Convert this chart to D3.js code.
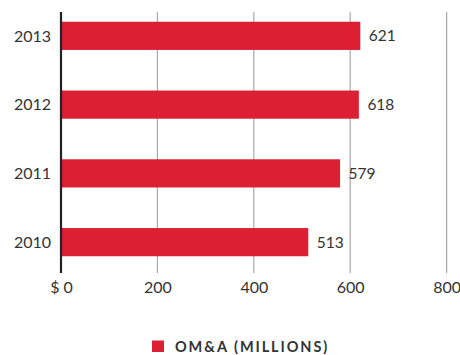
<!DOCTYPE html>
<html>
<head>
<meta charset="utf-8">
<script src="https://cdn.jsdelivr.net/npm/d3@7"></script>
<style>
  html, body { margin: 0; padding: 0; background: #fff; }
  svg { display: block; font-family: "Lato", "Open Sans", sans-serif; }
</style>
</head>
<body>
<svg id="chart" width="460" height="355"></svg>
<script>
// OM&A spending by year, in millions of dollars
const years = ["2013", "2012", "2011", "2010"];
const omaValues = [621, 618, 579, 513];
const xTicks = [0, 200, 400, 600, 800];
const tickLabels = ["$ 0", "200", "400", "600", "800"];
const legendLabel = "OM&A (MILLIONS)";

const red = "#dc1f33";
const textColor = "#333333";

const svg = d3.select("#chart");

const x = d3.scaleLinear().domain([0, 800]).range([61, 446.6]);
const y = d3.scaleBand().domain(years).range([8, 270]).paddingInner(0.59).paddingOuter(0.2);

const plotTop = 12, plotBottom = 273;

// vertical gridlines
svg.append("g")
  .selectAll("line")
  .data(xTicks.filter(d => d > 0))
  .join("line")
  .attr("x1", d => x(d)).attr("x2", d => x(d))
  .attr("y1", plotTop).attr("y2", plotBottom)
  .attr("stroke", "#a8a8a8")
  .attr("stroke-width", 1.2);

const rows = years.map((yr, i) => ({ yr, v: omaValues[i] }));

// bars
svg.append("g")
  .selectAll("rect")
  .data(rows)
  .join("rect")
  .attr("x", x(0))
  .attr("y", d => y(d.yr))
  .attr("width", d => x(d.v) - x(0))
  .attr("height", y.bandwidth())
  .attr("fill", red);

// value labels
svg.append("g")
  .selectAll("text")
  .data(rows)
  .join("text")
  .attr("x", d => x(d.v) + 8.5)
  .attr("y", d => y(d.yr) + y.bandwidth() / 2)
  .attr("dy", "0.36em")
  .attr("font-size", 15.5)
  .attr("fill", textColor)
  .text(d => d.v);

// category labels
svg.append("g")
  .selectAll("text")
  .data(years)
  .join("text")
  .attr("x", 51)
  .attr("y", d => y(d) + y.bandwidth() / 2)
  .attr("dy", "0.36em")
  .attr("text-anchor", "end")
  .attr("font-size", 16)
  .attr("fill", textColor)
  .text(d => d);

// x axis tick labels
const xAxis = d3.axisBottom(x)
  .tickValues(xTicks)
  .tickSize(0)
  .tickPadding(0)
  .tickFormat((d, i) => tickLabels[i]);
const gx = svg.append("g").attr("transform", `translate(0, ${plotBottom + 9})`).call(xAxis);
gx.select(".domain").remove();
gx.selectAll("text")
  .attr("font-size", 16)
  .attr("font-family", "Lato, 'Open Sans', sans-serif")
  .attr("fill", textColor)
  .attr("dy", "0.71em");

// baseline
svg.append("line")
  .attr("x1", x(0)).attr("x2", x(0))
  .attr("y1", plotTop).attr("y2", plotBottom)
  .attr("stroke", "#222")
  .attr("stroke-width", 2.2);

// legend
const legend = svg.append("g");
legend.append("rect")
  .attr("x", 152).attr("y", 340.5)
  .attr("width", 12).attr("height", 11.5)
  .attr("fill", red);
legend.append("text")
  .attr("x", 175).attr("y", 352)
  .attr("font-size", 14.5)
  .attr("font-weight", "bold")
  .attr("letter-spacing", 1.9)
  .attr("fill", textColor)
  .text(legendLabel);
</script>
</body>
</html>
